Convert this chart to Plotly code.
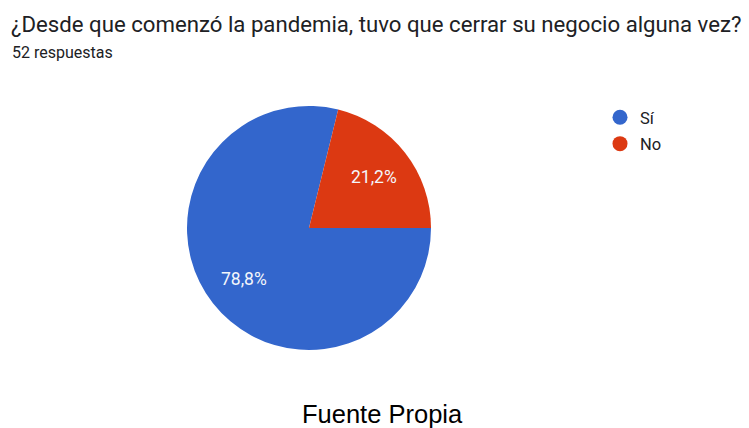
import math
import plotly.graph_objects as go

# Survey answers
labels = ["Sí", "No"]
counts = [41, 11]
colors = ["#3366CC", "#DC3912"]

question = "¿Desde que comenzó la pandemia, tuvo que cerrar su negocio alguna vez?"
responses = "52 respuestas"
source = "Fuente Propia"

W, H = 749, 428
cx, cy, r = 309, 228, 122  # pie centre and radius in pixels
start_deg = 90  # first slice starts at 3 o'clock, going clockwise

fig = go.Figure()
fig.add_trace(go.Pie(
    labels=labels, values=counts, sort=False, direction="clockwise",
    rotation=start_deg, marker=dict(colors=colors, line=dict(width=0)),
    textinfo="none", hoverinfo="label+percent", showlegend=False,
    domain=dict(x=[(cx - r) / W, (cx + r) / W],
                y=[(H - cy - r) / H, (H - cy + r) / H]),
))

# Legend entries with round markers
for i, (lab, col) in enumerate(zip(labels, colors)):
    fig.add_trace(go.Scatter(
        x=[None], y=[None], mode="markers", name=lab, legendgroup=str(i),
        marker=dict(color=col, size=15, symbol="circle"),
    ))

# Percent labels placed along each slice's mid-angle
total = sum(counts)
annotations = []
angle = start_deg
for lab, v in zip(labels, counts):
    span = 360 * v / total
    mid = math.radians(angle + span / 2)
    rr = 0.675 * r
    px = cx + rr * math.sin(mid)
    py = cy - rr * math.cos(mid)
    pct = f"{100 * v / total:.1f}%".replace(".", ",")
    annotations.append(dict(
        x=px / W, y=1 - py / H, xref="paper", yref="paper", text=pct,
        showarrow=False, xanchor="center", yanchor="middle",
        font=dict(family="Roboto, Arial", size=17.5, color="#F4F6FB"),
    ))
    angle += span

annotations += [
    dict(x=9 / W, y=1 - 9 / H, xref="paper", yref="paper", text=question,
         showarrow=False, xanchor="left", yanchor="top",
         font=dict(family="Roboto, Arial", size=22.2, color="#202124")),
    dict(x=10 / W, y=1 - 41 / H, xref="paper", yref="paper", text=responses,
         showarrow=False, xanchor="left", yanchor="top",
         font=dict(family="Roboto, Arial", size=16, color="#202124")),
    dict(x=382 / W, y=1 - 398 / H, xref="paper", yref="paper", text=source,
         showarrow=False, xanchor="center", yanchor="top",
         font=dict(family="Liberation Sans, Arial", size=25.5, color="#000000")),
]

fig.update_layout(
    width=W, height=H, margin=dict(l=0, r=0, t=0, b=0),
    paper_bgcolor="white", plot_bgcolor="white",
    xaxis=dict(visible=False), yaxis=dict(visible=False),
    annotations=annotations,
    legend=dict(x=600 / W, y=1 - 100 / H, xanchor="left", yanchor="top",
                tracegroupgap=2, traceorder="grouped",
                font=dict(family="Roboto, Arial", size=16.5, color="#202124"),
                itemwidth=30),
)

fig.write_html("out.html")
